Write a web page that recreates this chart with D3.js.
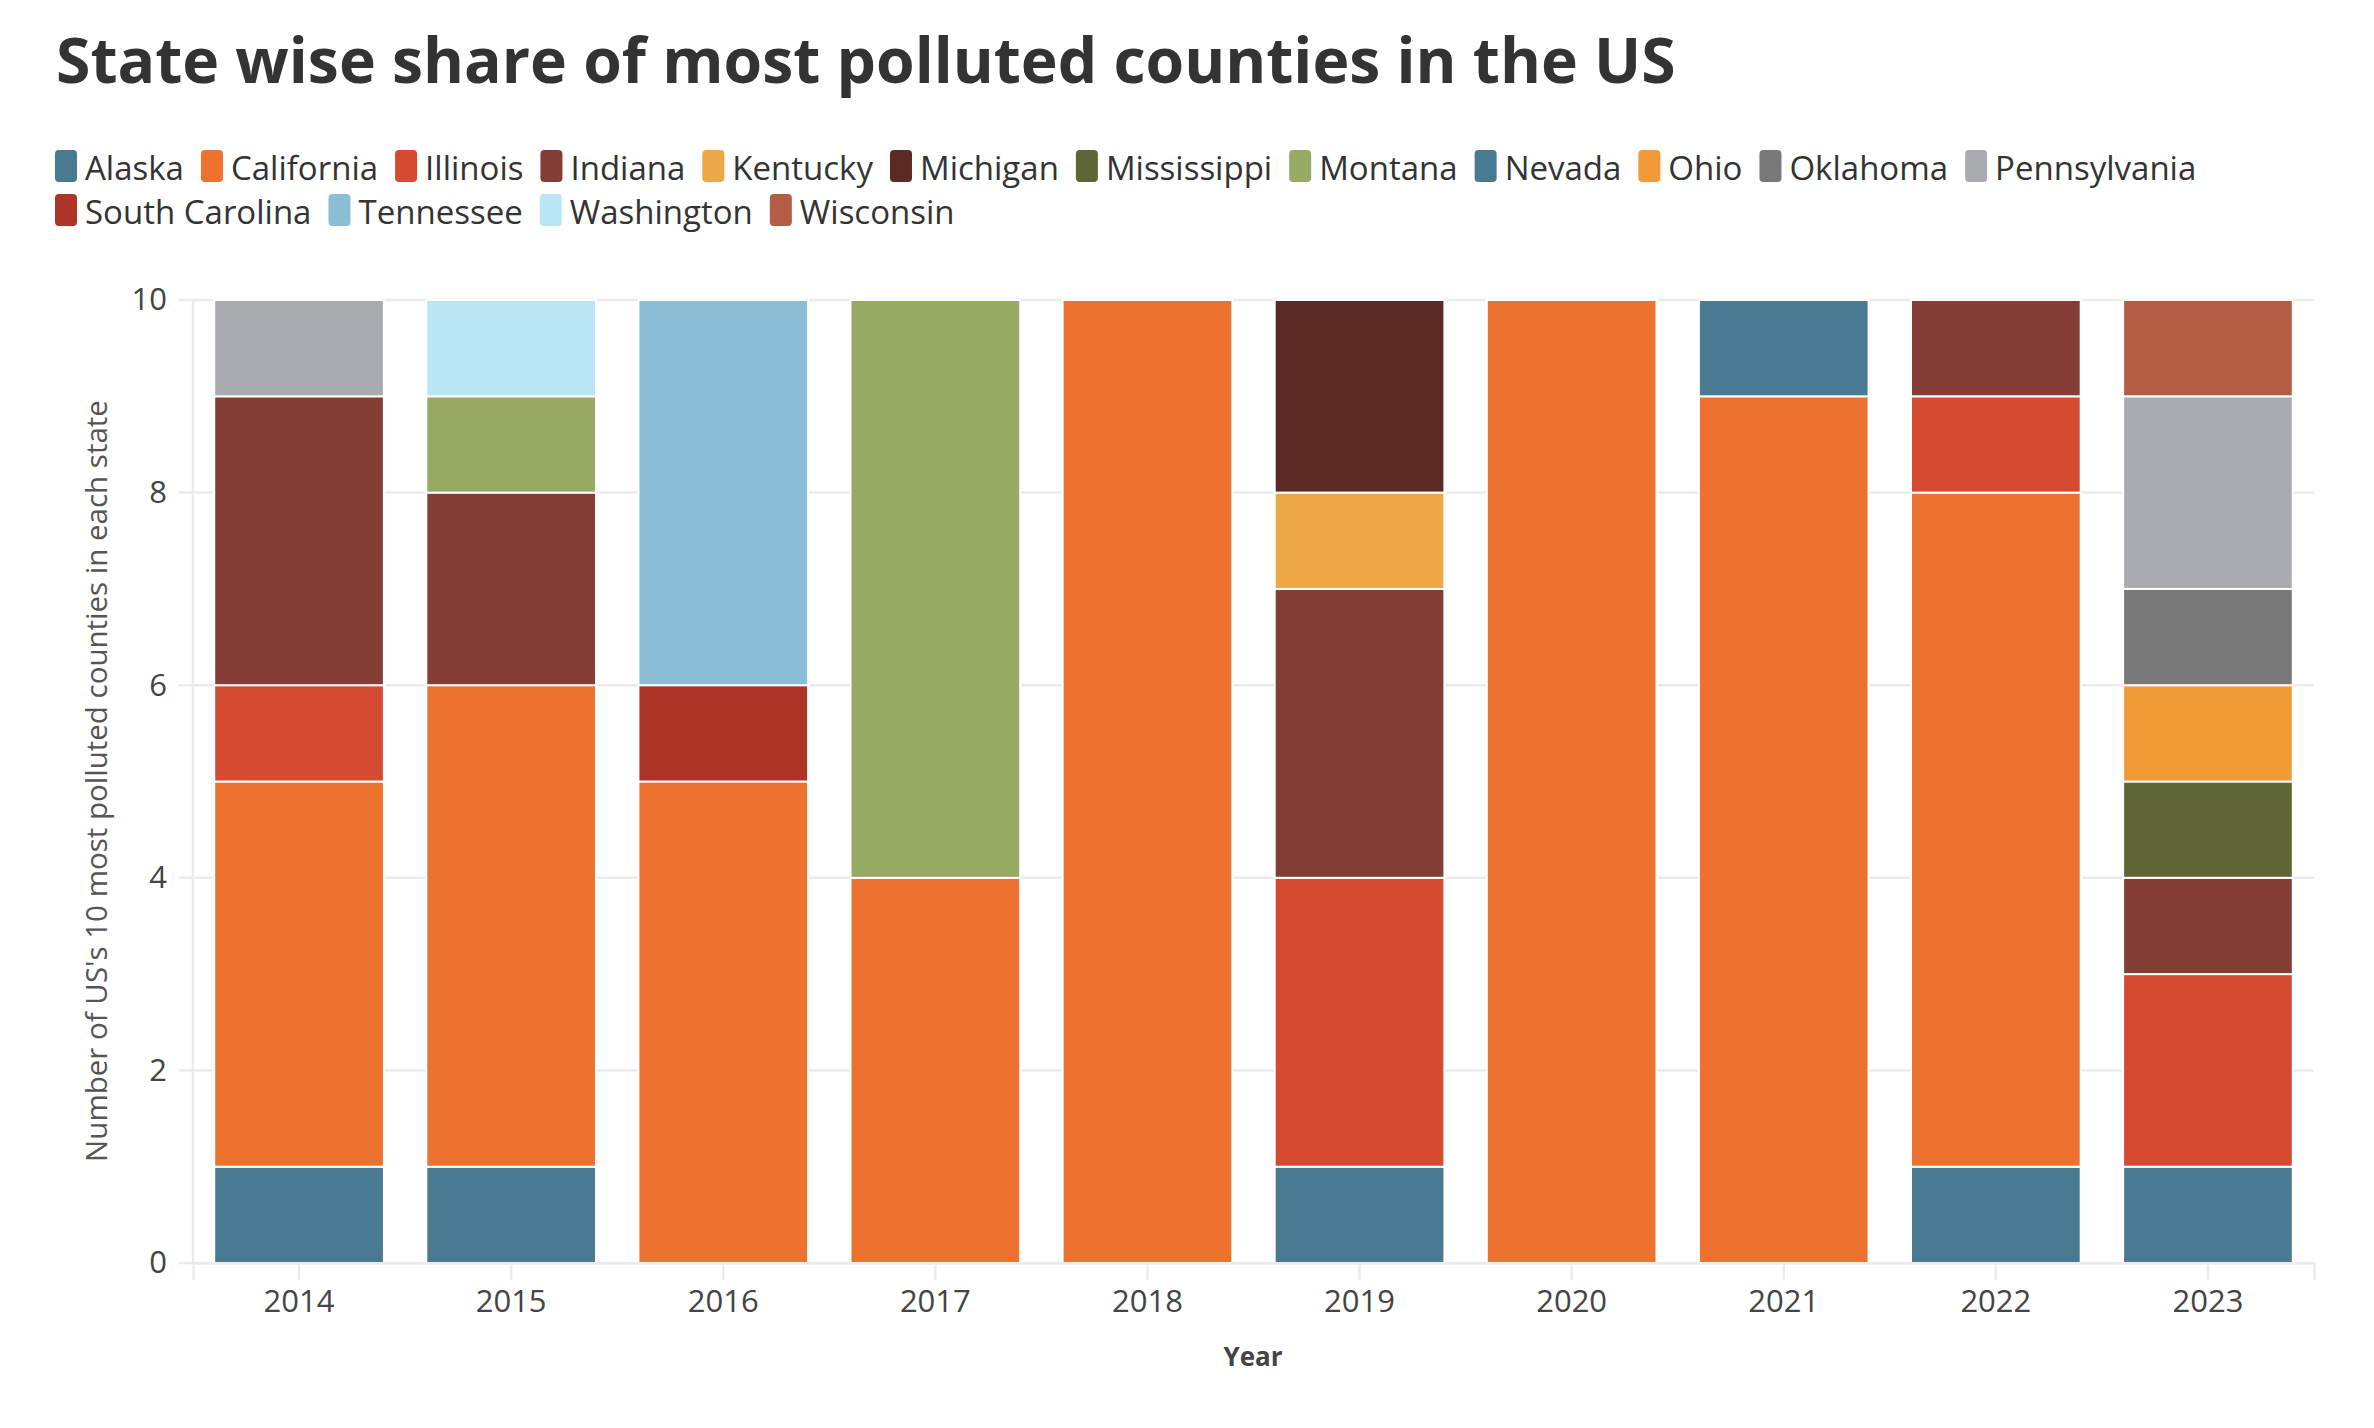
<!DOCTYPE html>
<html><head><meta charset="utf-8">
<script src="https://cdn.jsdelivr.net/npm/d3@7"></script>
<style>body{margin:0;background:#fff;} svg{display:block;}</style>
</head><body>
<svg id="chart" width="2374" height="1428"></svg>
<script>
const years = ["2014","2015","2016","2017","2018","2019","2020","2021","2022","2023"];
const states = ["Alaska","California","Illinois","Indiana","Kentucky","Michigan","Mississippi","Montana","Nevada","Ohio","Oklahoma","Pennsylvania","South Carolina","Tennessee","Washington","Wisconsin"];
const colors = ["#4a7a91","#ed7230","#d54b31","#843d35","#eca846","#5c2a24","#5f6536","#97a963","#4a7a91","#f09a38","#787878","#a9abb0","#ae3428","#8bbdd5","#b9e5f5","#b45d45"];
// counts per state, one value per year (2014..2023)
const Alaska        = [1,1,0,0,0,1,0,0,1,1];
const California    = [4,5,5,4,10,0,10,9,7,0];
const Illinois      = [1,0,0,0,0,3,0,0,1,2];
const Indiana       = [3,2,0,0,0,3,0,0,1,1];
const Kentucky      = [0,0,0,0,0,1,0,0,0,0];
const Michigan      = [0,0,0,0,0,2,0,0,0,0];
const Mississippi   = [0,0,0,0,0,0,0,0,0,1];
const Montana       = [0,1,0,6,0,0,0,0,0,0];
const Nevada        = [0,0,0,0,0,0,0,1,0,0];
const Ohio          = [0,0,0,0,0,0,0,0,0,1];
const Oklahoma      = [0,0,0,0,0,0,0,0,0,1];
const Pennsylvania  = [1,0,0,0,0,0,0,0,0,2];
const SouthCarolina = [0,0,1,0,0,0,0,0,0,0];
const Tennessee     = [0,0,4,0,0,0,0,0,0,0];
const Washington    = [0,1,0,0,0,0,0,0,0,0];
const Wisconsin     = [0,0,0,0,0,0,0,0,0,1];
const yTicks = [0,2,4,6,8,10];
const titleText = "State wise share of most polluted counties in the US";
const yTitle = "Number of US's 10 most polluted counties in each state";
const xTitle = "Year";

const seriesVals = [Alaska,California,Illinois,Indiana,Kentucky,Michigan,Mississippi,Montana,Nevada,Ohio,Oklahoma,Pennsylvania,SouthCarolina,Tennessee,Washington,Wisconsin];
const table = years.map((y,i)=>{const o={year:y}; states.forEach((s,j)=>o[s]=seriesVals[j][i]); return o;});
const color = d3.scaleOrdinal().domain(states).range(colors);

const FONT = "'Open Sans', sans-serif";
const svg = d3.select("#chart");

// title
const title = svg.append("text").attr("x",56).attr("y",83)
  .attr("font-family",FONT).attr("font-weight",700).attr("font-size",62)
  .attr("fill","#333").text(titleText);
const tw = title.node().getComputedTextLength();
title.attr("font-size", 62*1620/tw);

// legend
const legend = svg.append("g");
let lx = 55, ly = 166;
const legFs = 33;
states.forEach((s,i)=>{
  const g = legend.append("g");
  const t = g.append("text").attr("font-family",FONT).attr("font-size",legFs).attr("fill","#333")
    .attr("dominant-baseline","central").text(s);
  const w = t.node().getComputedTextLength();
  if (lx + 30 + w > 2330) { lx = 55; ly += 44; }
  g.append("rect").attr("x",lx).attr("y",ly-16).attr("width",22).attr("height",32).attr("rx",4).attr("fill",color(s));
  t.attr("x",lx+30).attr("y",ly+1);
  lx += 30 + w + 17;
});

// scales
const x = d3.scaleBand().domain(years).range([193,2314]).paddingInner(0.2).paddingOuter(0.1);
const y = d3.scaleLinear().domain([0,10]).range([1263,300]);

// gridlines
svg.append("g").selectAll("line").data(yTicks).join("line")
  .attr("x1",179).attr("x2",2314).attr("y1",d=>y(d)).attr("y2",d=>y(d))
  .attr("stroke","#ebebeb").attr("stroke-width",2.5);
// y axis line
svg.append("line").attr("x1",193).attr("x2",193).attr("y1",y(10)).attr("y2",y(0))
  .attr("stroke","#ebebeb").attr("stroke-width",2.5);

// bars
const stack = d3.stack().keys(states)(table);
svg.append("g").selectAll("g").data(stack).join("g").attr("fill",d=>color(d.key))
  .selectAll("rect").data(d=>d.filter(p=>p[1]-p[0]>0)).join("rect")
  .attr("x",d=>x(d.data.year)).attr("width",x.bandwidth())
  .attr("y",d=>y(d[1])).attr("height",d=>y(d[0])-y(d[1]))
  .attr("stroke","#fff").attr("stroke-width",2);

// x axis
const xAxis = svg.append("g").attr("transform",`translate(0,${y(0)})`)
  .call(d3.axisBottom(x).tickSize(17).tickPadding(10));
xAxis.select(".domain").attr("stroke","#ebebeb").attr("stroke-width",2.5);
xAxis.selectAll(".tick line").attr("stroke","#ebebeb").attr("stroke-width",2.5);
xAxis.selectAll("text").attr("font-family",FONT).attr("font-size",31).attr("fill","#444");

// y axis labels
const yAxis = svg.append("g").attr("transform","translate(179,0)")
  .call(d3.axisLeft(y).tickValues(yTicks).tickSize(0).tickPadding(12));
yAxis.select(".domain").remove();
yAxis.selectAll("text").attr("font-family",FONT).attr("font-size",31).attr("fill","#444");

// axis titles
svg.append("text").attr("transform","translate(95,781) rotate(-90)").attr("text-anchor","middle")
  .attr("dominant-baseline","central")
  .attr("font-family",FONT).attr("font-size",29.5).attr("fill","#555").text(yTitle);
svg.append("text").attr("x",1253).attr("y",1366).attr("text-anchor","middle")
  .attr("font-family",FONT).attr("font-weight",700).attr("font-size",26).attr("fill","#444").text(xTitle);
</script>
</body></html>
